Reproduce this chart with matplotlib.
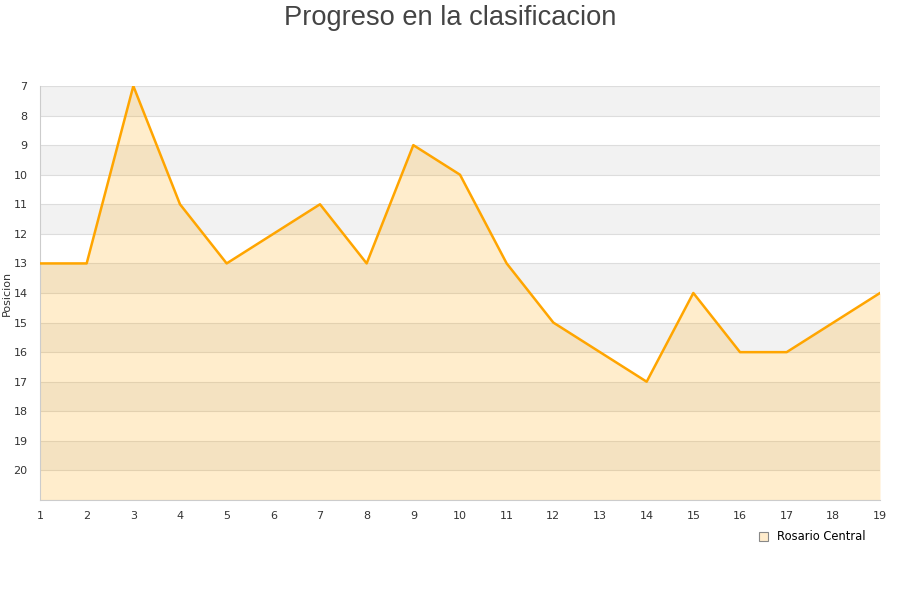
import matplotlib
matplotlib.use("Agg")
import matplotlib.pyplot as plt
from matplotlib.patches import Patch

jornadas = list(range(1, 20))
posiciones = [13, 13, 7, 11, 13, 12, 11, 13, 9, 10, 13, 15, 16, 17, 14, 16, 16, 15, 14]
equipo = "Rosario Central"
titulo = "Progreso en la clasificacion"
ylabel = "Posicion"

fig = plt.figure(figsize=(9, 6), dpi=100)
ax = fig.add_axes([40/900, 1-500/600, 840/900, 414/600])

ymin, ymax = 7, 21
for i, y0 in enumerate(range(ymin, ymax)):
    if i % 2 == 0:
        ax.axhspan(y0, y0+1, color="#f2f2f2", zorder=0, lw=0)
for y in range(ymin, ymax+1):
    ax.axhline(y, color="#dddddd", lw=0.8, zorder=1)

ax.fill_between(jornadas, posiciones, ymax, color="#FFA500", alpha=0.2, lw=0, zorder=2)
ax.plot(jornadas, posiciones, color="#FFA500", lw=1.8, zorder=3)

ax.set_xlim(1, 19)
ax.set_ylim(ymax, ymin)
ax.set_xticks(jornadas)
ax.set_yticks(list(range(7, 21)))
ax.tick_params(axis="both", length=0, labelsize=8, labelcolor="#333333")
ax.tick_params(axis="y", pad=9)
ax.tick_params(axis="x", pad=8)
for s in ["top", "right"]:
    ax.spines[s].set_visible(False)
for s in ["left", "bottom"]:
    ax.spines[s].set_color("#cccccc")
ax.set_ylabel(ylabel, fontsize=8, color="#333333", labelpad=4)
ax.yaxis.set_label_coords(-0.033, 0.5)

fig.text(0.5, 1-18/600, titulo, ha="center", va="center", fontsize=19.6,
         color="#444444", family="Liberation Sans")

handle = Patch(facecolor="#FFECCC", edgecolor="#888888", lw=0.8)
fig.legend([handle], [equipo], loc="center", bbox_to_anchor=(812/900, 1-537/600),
           frameon=False, fontsize=8.3, handlelength=0.8, handleheight=0.8, handletextpad=0.8)

fig.savefig("out.png", dpi=100)
